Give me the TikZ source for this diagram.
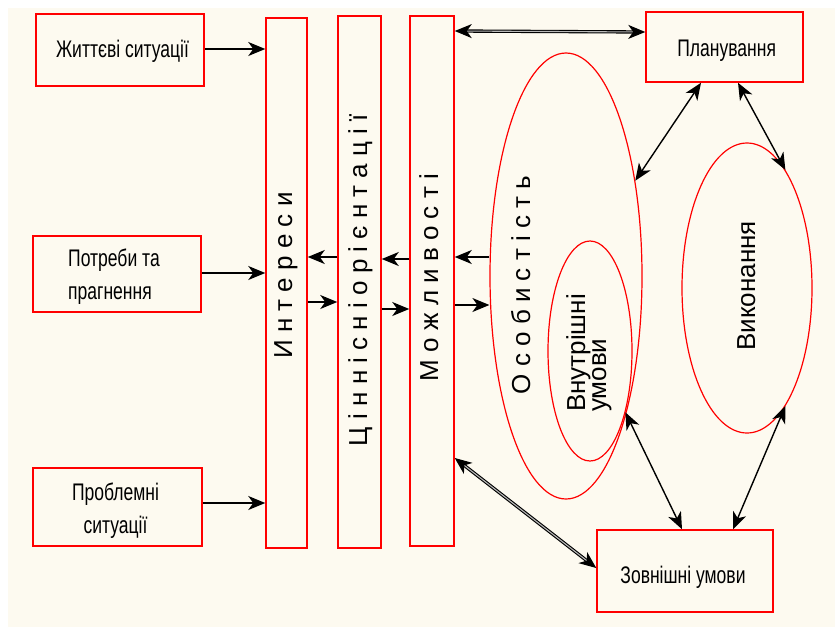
\documentclass[tikz,border=0pt]{standalone}
\usepackage{fontspec}
\setmainfont{Liberation Sans}
\newfontfamily\nar[FakeStretch=0.73]{Liberation Sans}
\usetikzlibrary{arrows.meta,shapes.geometric}
\definecolor{bgc}{RGB}{253,250,240}
\definecolor{rd}{RGB}{255,0,0}
\begin{document}
\begin{tikzpicture}[x=1pt,y=-1pt,
  box/.style={draw=rd,line width=1.5pt,inner sep=0pt,rectangle},
  ell/.style={draw=rd,line width=1.2pt,ellipse,inner sep=0pt},
  arr/.style={-{Stealth[length=17pt,width=14pt,inset=5pt]},line width=1.4pt},
  barr/.style={{Stealth[length=17pt,width=14pt,inset=5pt]}-{Stealth[length=17pt,width=14pt,inset=5pt]},line width=1.4pt},
  dbl/.style={{Stealth[length=17pt,width=14pt,inset=5pt]}-{Stealth[length=17pt,width=14pt,inset=5pt]},double=gray!55,double distance=1.1pt,line width=1.1pt},
  htxt/.style={font=\nar\fontsize{24}{32.6}\selectfont,inner sep=0pt},
  vtxt/.style={font=\fontsize{26}{21}\selectfont,inner sep=0pt,rotate=90},
]
\useasboundingbox (0,0) rectangle (835,627);
\fill[bgc] (8,8) rectangle (835,627);

% ellipses
\node[ell,minimum width=152pt,minimum height=446pt] (osob) at (566,276) {};
\node[ell,minimum width=84pt,minimum height=220pt] (vnutr) at (590,351) {};
\node[ell,minimum width=130pt,minimum height=290pt] (vyk) at (747,288) {};

% boxes
\node[box,minimum width=168pt,minimum height=72pt] (zhyt) at (120,50) {};
\node[box,minimum width=168pt,minimum height=76pt] (potr) at (117,274) {};
\node[box,minimum width=169pt,minimum height=78pt] (probl) at (117.5,507) {};
\node[box,minimum width=41pt,minimum height=530pt] (inter) at (286.5,283) {};
\node[box,minimum width=43pt,minimum height=532pt] (tsin) at (359.5,282) {};
\node[box,minimum width=44pt,minimum height=530pt] (mozh) at (432,281) {};
\node[box,minimum width=157pt,minimum height=70pt] (plan) at (724.5,47) {};
\node[box,minimum width=176pt,minimum height=82pt] (zovn) at (685,571) {};

% arrows to Інтереси
\draw[arr] (zhyt.east |- 0,49) -- (inter.west |- 0,49);
\draw[arr] (potr.east |- 0,273) -- (inter.west |- 0,273);
\draw[arr] (probl.east |- 0,503) -- (inter.west |- 0,503);
% between bars
\draw[arr] (tsin.west |- 0,257) -- (inter.east |- 0,257);
\draw[arr] (inter.east |- 0,302) -- (tsin.west |- 0,302);
\draw[arr] (mozh.west |- 0,259) -- (tsin.east |- 0,259);
\draw[arr] (tsin.east |- 0,309) -- (mozh.west |- 0,309);
\draw[arr] (osob.west |- 0,257) -- (mozh.east |- 0,257);
\draw[arr] (mozh.east |- 0,305) -- (osob.west |- 0,305);
% double arrows
\draw[dbl] (mozh.east |- 0,31) -- (plan.west |- 0,32);
\draw[dbl] (mozh.east |- 0,458) -- (zovn.west |- 0,568);
% right part
\draw[barr] (plan.south -| 701,0) -- (osob.54);
\draw[barr] (plan.south -| 738,0) -- (vyk.72);
\draw[barr] (vnutr.-60) -- (zovn.north -| 682,0);
\draw[barr] (vyk.-72) -- (zovn.north -| 733,0);

% texts
\node[htxt,anchor=base] (tzhyt) at (122.5,57.3) {Життєві ситуації};
\node[htxt,anchor=west,align=left] (tpotr) at (68,276.5) {Потреби та\\прагнення};
\node[htxt,anchor=center,align=center] (tprobl) at (115.5,510.5) {Проблемні\\ситуації};
\node[htxt,anchor=base] (tplan) at (726.7,56) {Планування};
\node[htxt,anchor=base] (tzovn) at (683,583.3) {Зовнішні умови};

\node[vtxt,anchor=base] (tinter) at (292,275.5) {И н т е р е с и};
\node[vtxt,anchor=base] (ttsin) at (367,280) {Ц і н н і с н і о р і є н т а ц і ї};
\node[vtxt,anchor=base] (tmozh) at (438,277.5) {М о ж л и в о с т і};
\node[vtxt,anchor=base] (tosob) at (530,285) {О с о б и с т і с т ь};
\node[vtxt,anchor=base] (tvyk) at (755,286) {Виконання};
\node[vtxt,anchor=center,align=left] (tvnutr) at (589,353) {Внутрішні\\умови};
\end{tikzpicture}
\end{document}
